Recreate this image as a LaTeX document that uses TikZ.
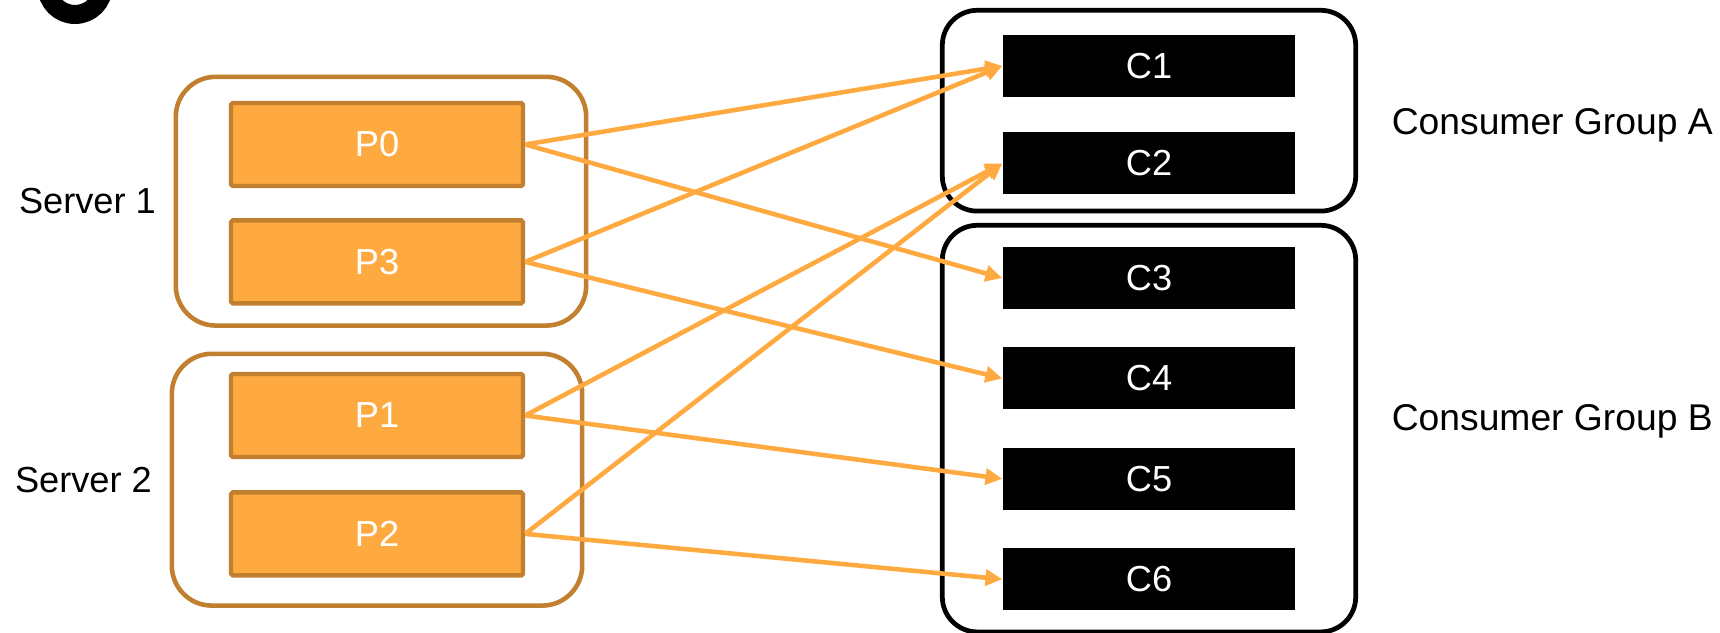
\documentclass[tikz,border=0pt]{standalone}
\usepackage{fontspec}
\setmainfont{Liberation Sans}
\usetikzlibrary{arrows.meta, positioning, fit}

\definecolor{partfill}{HTML}{FFAA40}
\definecolor{partedge}{HTML}{C1802F}

\begin{document}
\begin{tikzpicture}[
  x=0.1mm, y=-0.1mm,
  every node/.style={font=\fontsize{10.3}{12}\selectfont},
  part/.style={rectangle, draw=partedge, fill=partfill, line width=1.25pt, rounded corners=0.5pt, minimum width=29.2mm, minimum height=8.3mm, text=white, inner sep=0pt},
  cons/.style={rectangle, fill=black, minimum width=29.2mm, minimum height=6.2mm, text=white, inner sep=0pt},
  server/.style={rectangle, draw=partedge, line width=1.3pt, rounded corners=4mm, inner xsep=5.7mm, inner ysep=2.2mm},
  group/.style={rectangle, draw=black, line width=1.35pt, rounded corners=3.5mm, inner xsep=6mm, inner ysep=2mm},
  lbl/.style={inner sep=0pt},
  arrow/.style={-{Triangle[length=4.8pt, width=4.5pt]}, line width=1.3pt, draw=partfill}
]
\useasboundingbox (0,0) rectangle (1720,632);

% Step badge (cut off at the top)
\draw[line width=5.4pt] (75,-13.5) circle[radius=2.8mm];

% Partitions
\node[part] (P0) at (377,144.5) {P0};
\node[part, below=3mm of P0] (P3) {P3};
\node[part] (P1) at (377,415.5) {P1};
\node[part, below=3.1mm of P1] (P2) {P2};

% Consumers
\node[cons] (C1) at (1149,66) {C1};
\node[cons, below=3.4mm of C1] (C2) {C2};
\node[cons] (C3) at (1149,278) {C3};
\node[cons, below=3.7mm of C3] (C4) {C4};
\node[cons, below=3.7mm of C4] (C5) {C5};
\node[cons, below=3.7mm of C5] (C6) {C6};

% Servers and groups
\node[server, fit=(P0)(P3), xshift=0.4mm, yshift=0.2mm] (srv1) {};
\node[server, fit=(P1)(P2), yshift=-0.5mm, inner ysep=2.3mm] (srv2) {};
\node[group, fit=(C1)(C2), yshift=0.4mm] (grpA) {};
\node[group, fit=(C3)(C6), inner ysep=2.1mm] (grpB) {};

\node[lbl, left=1.7mm of srv1] (lbls1) {Server 1};
\node[lbl, left=1.7mm of srv2] (lbls2) {Server 2};
\node[lbl, right=3.3mm of grpA, yshift=-1.45mm, font=\fontsize{10.6}{12}\selectfont] (lblga) {Consumer Group A};
\node[lbl, right=3.3mm of grpB, yshift=0.7mm, font=\fontsize{10.6}{12}\selectfont] (lblgb) {Consumer Group B};

% Assignments
\draw[arrow] (P0.east) -- (C1.west);
\draw[arrow] (P0.east) -- (C3.west);
\draw[arrow] (P3.east) -- (C1.west);
\draw[arrow] (P3.east) -- (C4.west);
\draw[arrow] (P1.east) -- (C2.west);
\draw[arrow] (P1.east) -- (C5.west);
\draw[arrow] (P2.east) -- (C2.west);
\draw[arrow] (P2.east) -- (C6.west);

\end{tikzpicture}
\end{document}
